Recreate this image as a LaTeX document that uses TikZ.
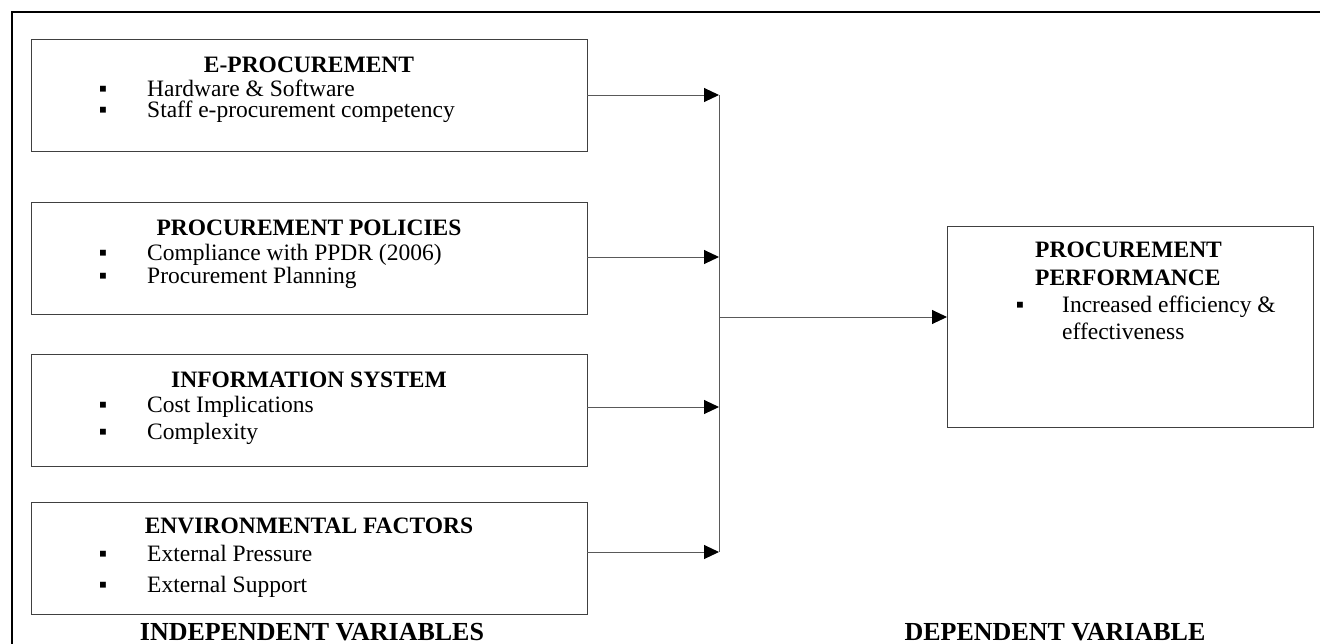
\documentclass[tikz,border=0pt]{standalone}
\usepackage{fontspec}
\setmainfont{Liberation Serif}
\usetikzlibrary{arrows.meta}
\begin{document}
\begin{tikzpicture}[x=1pt,y=-1pt,
  box/.style={draw=black!75, line width=1pt, rectangle, inner sep=0pt, outer sep=0pt, anchor=north west, minimum width=556pt, minimum height=112pt},
  ttl/.style={font=\fontsize{23.5}{26}\selectfont\bfseries, anchor=base, inner sep=0pt},
  rttl/.style={font=\fontsize{23.5}{26}\selectfont\bfseries, anchor=base west, inner sep=0pt},
  itm/.style={font=\fontsize{23.5}{26}\selectfont, anchor=base west, inner sep=0pt},
  bul/.style={font=\fontsize{23.5}{26}\selectfont, anchor=base, inner sep=0pt},
  conn/.style={draw=black!65, line width=1pt},
  arr/.style={conn, -{Triangle[length=15pt,width=14pt,black]}},
  lab/.style={font=\fontsize{26}{28}\selectfont\bfseries, anchor=base, inner sep=0pt}
]
\useasboundingbox (0,0) rectangle (1320,643);
\clip (0,0) rectangle (1320,643);
% outer frame
\draw[line width=2pt, black] (12,12) rectangle (1350,680);

% boxes
\node[box] (b1) at (31,39) {};
\node[box] (b2) at (31,202) {};
\node[box] (b3) at (31,354) {};
\node[box] (b4) at (31,502) {};
\node[box, minimum width=366pt, minimum height=201pt] (rb) at (947,226) {};

% box 1
\node[ttl] (t1) at (309,72) {E-PROCUREMENT};
\node[bul] (p11) at (103,96) {▪};
\node[itm] (i11) at (147,96) {Hardware \& Software};
\node[bul] (p12) at (103,117) {▪};
\node[itm] (i12) at (147,117) {Staff e-procurement competency};

% box 2
\node[ttl] (t2) at (309,235) {PROCUREMENT POLICIES};
\node[bul] (p21) at (103,260) {▪};
\node[itm] (i21) at (147,260) {Compliance with PPDR (2006)};
\node[bul] (p22) at (103,283) {▪};
\node[itm] (i22) at (147,283) {Procurement Planning};

% box 3
\node[ttl] (t3) at (309,387) {INFORMATION SYSTEM};
\node[bul] (p31) at (103,412) {▪};
\node[itm] (i31) at (147,412) {Cost Implications};
\node[bul] (p32) at (103,439) {▪};
\node[itm] (i32) at (147,439) {Complexity};

% box 4
\node[ttl] (t4) at (309,533) {ENVIRONMENTAL FACTORS};
\node[bul] (p41) at (103,561) {▪};
\node[itm] (i41) at (147,561) {External Pressure};
\node[bul] (p42) at (103,592) {▪};
\node[itm] (i42) at (147,592) {External Support};

% right box
\node[rttl] (rt1) at (1035,257) {PROCUREMENT};
\node[rttl] (rt2) at (1035,285) {PERFORMANCE};
\node[bul] (rp) at (1020,312) {▪};
\node[itm] (ri1) at (1062,312) {Increased efficiency \&};
\node[itm] (ri2) at (1062,339) {effectiveness};

% connectors
\coordinate (s1) at (719,95);
\coordinate (s2) at (719,257);
\coordinate (s3) at (719,407);
\coordinate (s4) at (719,552);
\coordinate (sm) at (719,317);
\draw[arr] (s1 -| b1.east) -- (s1);
\draw[arr] (s2 -| b2.east) -- (s2);
\draw[arr] (s3 -| b3.east) -- (s3);
\draw[arr] (s4 -| b4.east) -- (s4);
\draw[conn] (s1) -- (s4);
\draw[arr] (sm) -- (sm -| rb.west);

% labels
\node[lab] (l1) at (312,640) {INDEPENDENT VARIABLES};
\node[lab] (l2) at (1055,640) {DEPENDENT VARIABLE};
\end{tikzpicture}
\end{document}
